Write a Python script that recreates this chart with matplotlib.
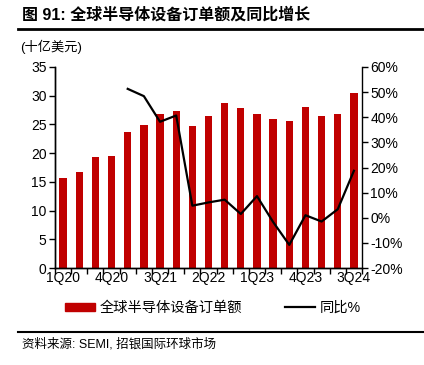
import numpy as np
import matplotlib.pyplot as plt
from matplotlib.lines import Line2D
from matplotlib.patches import Patch

plt.rcParams['font.family'] = ['Liberation Sans', 'Noto Sans CJK SC']

# 季度
quarters = ['1Q20', '2Q20', '3Q20', '4Q20', '1Q21', '2Q21', '3Q21', '4Q21',
            '1Q22', '2Q22', '3Q22', '4Q22', '1Q23', '2Q23', '3Q23', '4Q23',
            '1Q24', '2Q24', '3Q24']
# 全球半导体设备订单额 (十亿美元)
orders = [15.6, 16.8, 19.4, 19.5, 23.7, 24.9, 26.9, 27.4, 24.8, 26.5,
          28.8, 27.8, 26.9, 25.9, 25.6, 28.1, 26.5, 26.9, 30.5]
# 同比% (first four quarters have no value)
yoy = [np.nan, np.nan, np.nan, np.nan, 51.3, 48.4, 38.2, 40.7, 4.8, 6.1,
       7.2, 1.5, 8.6, -1.7, -10.8, 1.0, -1.5, 3.4, 18.7]

x = np.arange(len(quarters))

fig = plt.figure(figsize=(4.24, 3.65), dpi=100)
ax = fig.add_axes([55/424, 1 - 268/365, 307/424, 201/365])
ax2 = ax.twinx()

ax.bar(x, orders, width=0.45, color='#C00000', zorder=2)
ax2.plot(x, yoy, color='black', lw=1.6, zorder=3)

ax.set_xlim(-0.5, len(quarters) - 0.5)
ax.set_ylim(0, 35)
ax.set_yticks(np.arange(0, 36, 5))
ax2.set_ylim(-20, 60)
ax2.set_yticks(np.arange(-20, 61, 10))
ax2.set_yticklabels([f'{v}%' for v in range(-20, 61, 10)])

# tick marks at each category boundary, labels every third quarter
ax.set_xticks(np.arange(-0.5, len(quarters), 1.0))
ax.set_xticklabels([])
ax.set_xticks(x[::3], minor=True)
ax.set_xticklabels(quarters[::3], minor=True)
ax.tick_params(axis='x', which='minor', length=0, labelsize=10, pad=2)
ax.tick_params(axis='x', which='major', length=4, width=1)
ax.tick_params(axis='y', labelsize=10, length=4, width=1, pad=2)
ax2.tick_params(axis='y', labelsize=10, length=4, width=1, pad=2)

for a in (ax, ax2):
    a.spines['top'].set_visible(False)
    for s in ('left', 'right', 'bottom'):
        a.spines[s].set_linewidth(1.0)
ax.spines['right'].set_visible(False)

fig.text(22/424, 1 - 15/365, '图 91: 全球半导体设备订单额及同比增长',
         fontsize=11.5, fontweight='bold', va='center', ha='left')
fig.add_artist(Line2D([18/424, 1], [1 - 29/365] * 2, color='black', lw=2))
fig.text(20/424, 1 - 47/365, '(十亿美元)', fontsize=9.5, va='center', ha='left')

handles = [Patch(color='#C00000'), Line2D([], [], color='black', lw=1.6)]
fig.legend(handles, ['全球半导体设备订单额', '同比%'], loc='center',
           bbox_to_anchor=(213/424, 1 - 308/365), ncol=2, frameon=False,
           fontsize=10.3, handlelength=2.1, handleheight=0.5, columnspacing=3.0,
           handletextpad=0.35)

fig.add_artist(Line2D([18/424, 1], [1 - 332/365] * 2, color='black', lw=1.5))
fig.text(22/424, 1 - 344/365, '资料来源: SEMI, 招银国际环球市场', fontsize=9,
         va='center', ha='left')

fig.savefig('out.png', dpi=100)
